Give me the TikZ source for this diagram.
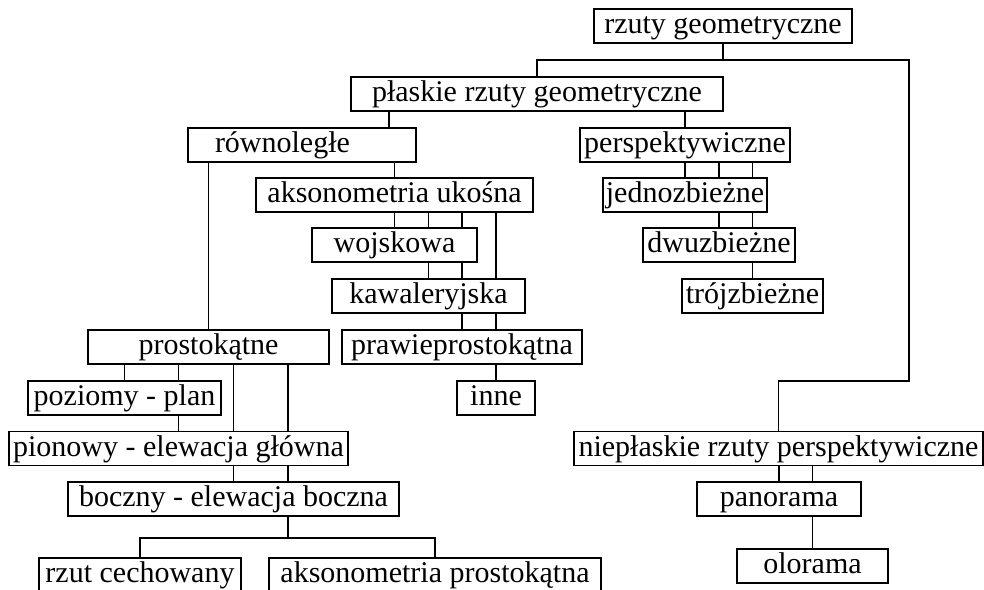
\documentclass[tikz,border=0pt]{standalone}
\usepackage{fontspec}
\setmainfont{Liberation Serif}
\tikzset{
    box/.style={draw, line width=1.9pt, inner sep=1pt, minimum height=34pt,
        font=\fontsize{30}{34}\selectfont, text height=23pt, text depth=7.5pt},
    link/.style={line width=1.9pt}
}

\begin{document}
\begin{tikzpicture}[x=1pt,y=-1pt]
    \useasboundingbox (0,0) rectangle (984,589);
    % boxes
    \node[box, minimum width=258] (rg) at (723,26) {rzuty geometryczne};
    \node[box, minimum width=372] (prg) at (537,94) {płaskie rzuty geometryczne};
    \node[box, minimum width=228, align=left, text width=174pt, inner xsep=27pt] (rown) at (302,145) {równoległe};
    \node[box, minimum width=210] (persp) at (685,145) {perspektywiczne};
    \node[box, minimum width=277] (aksuk) at (394.5,195) {aksonometria ukośna};
    \node[box, minimum width=164] (jedno) at (685,195) {jednozbieżne};
    \node[box, minimum width=165] (wojsk) at (394.5,245) {wojskowa};
    \node[box, minimum width=152] (dwu) at (719,245) {dwuzbieżne};
    \node[box, minimum width=193] (kaw) at (428.5,296) {kawaleryjska};
    \node[box, minimum width=141] (troj) at (752.5,296) {trójzbieżne};
    \node[box, minimum width=241] (prost) at (208.5,347) {prostokątne};
    \node[box, minimum width=240] (prawie) at (462,347) {prawieprostokątna};
    \node[box, minimum width=193] (poz) at (124.5,398) {poziomy - plan};
    \node[box, minimum width=78] (inne) at (496,398) {inne};
    \node[box, minimum width=339] (pion) at (178.5,448.5) {pionowy - elewacja główna};
    \node[box, minimum width=409] (nieplask) at (778.5,448.5) {niepłaskie rzuty perspektywiczne};
    \node[box, minimum width=331] (bocz) at (233.5,499) {boczny - elewacja boczna};
    \node[box, minimum width=164] (pan) at (779,499) {panorama};
    \node[box, minimum width=151] (olo) at (812.5,566) {olorama};
    \node[box, minimum width=202] (rzc) at (140,575) {rzut cechowany};
    \node[box, minimum width=332] (aksp) at (435,575) {aksonometria prostokątna};

    \coordinate (split) at (rg.south |- 0,60);
    \coordinate (bend) at (909,381);
    \coordinate (fork) at (288,538);

    % top level
    \draw[link] (rg.south) -- (split) -| (prg.north);
    \draw[link] (split) -| (bend) -| (nieplask.north);
    \draw[link] (389,0 |- prg.south) -- (389,0 |- rown.north);
    \draw[link] (persp.north |- prg.south) -- (persp.north);

    % rownolegle
    \draw[link] (prost.north |- rown.south) -- (prost.north);
    \draw[link] (aksuk.north |- rown.south) -- (aksuk.north);
    \draw[link] (aksuk.south) -- (aksuk.south |- wojsk.north);
    \draw[link] (kaw.north |- aksuk.south) -- (kaw.north |- wojsk.north);
    \draw[link] (prawie.north |- aksuk.south) -- (prawie.north |- wojsk.north);
    \draw[link] (inne.north |- aksuk.south) -- (inne.north |- kaw.north);
    \draw[link] (kaw.north |- wojsk.south) -- (kaw.north);
    \draw[link] (prawie.north |- wojsk.south) -- (prawie.north |- kaw.north);
    \draw[link] (prawie.north |- kaw.south) -- (prawie.north);
    \draw[link] (inne.north |- kaw.south) -- (inne.north |- prawie.north);
    \draw[link] (inne.north |- prawie.south) -- (inne.north);

    % perspektywiczne
    \draw[link] (persp.south) -- (persp.south |- jedno.north);
    \draw[link] (dwu.north |- persp.south) -- (dwu.north |- jedno.north);
    \draw[link] (troj.north |- persp.south) -- (troj.north |- jedno.north);
    \draw[link] (dwu.north |- jedno.south) -- (dwu.north);
    \draw[link] (troj.north |- jedno.south) -- (troj.north |- dwu.north);
    \draw[link] (troj.north |- dwu.south) -- (troj.north);

    % prostokatne
    \draw[link] (poz.north |- prost.south) -- (poz.north);
    \draw[link] (pion.north |- prost.south) -- (pion.north |- poz.north);
    \draw[link] (bocz.north |- prost.south) -- (bocz.north |- pion.north);
    \draw[link] (fork |- prost.south) -- (fork |- pion.north);
    \draw[link] (pion.north |- poz.south) -- (pion.north);
    \draw[link] (bocz.north |- pion.south) -- (bocz.north);
    \draw[link] (fork |- pion.south) -- (fork |- bocz.north);
    \draw[link] (fork |- bocz.south) -- (fork);
    \draw[link] (rzc.north) |- (fork) -| (aksp.north);

    % nieplaskie
    \draw[link] (pan.north |- nieplask.south) -- (pan.north);
    \draw[link] (olo.north |- nieplask.south) -- (olo.north |- pan.north);
    \draw[link] (olo.north |- pan.south) -- (olo.north);
\end{tikzpicture}
\end{document}
